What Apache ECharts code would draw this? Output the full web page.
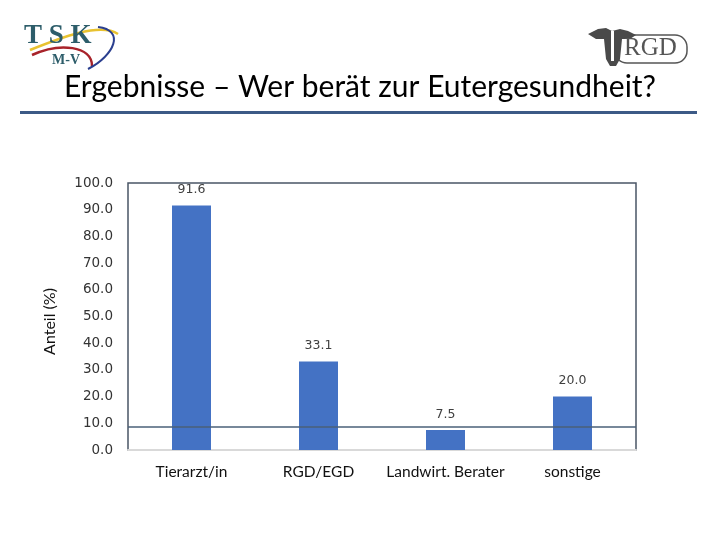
<!DOCTYPE html>
<html>
<head>
<meta charset="utf-8">
<script src="https://cdn.jsdelivr.net/npm/echarts@6/dist/echarts.min.js"></script>
<style>html,body{margin:0;padding:0;background:#fff;}#c{width:720px;height:540px;}</style>
</head>
<body>
<div id="c"></div>
<script>
const categories = ['Tierarzt/in', 'RGD/EGD', 'Landwirt. Berater', 'sonstige'];
const values = [91.6, 33.1, 7.5, 20.0];
const refLineValue = [8.6];
const titleText = 'Ergebnisse – Wer berät zur Eutergesundheit?';
const yAxisName = 'Anteil (%)';

const chart = echarts.init(document.getElementById('c'), null, {renderer: 'canvas'});
chart.setOption({
  backgroundColor: '#ffffff',
  animation: false,
  grid: {left: 128, right: 84, top: 183, bottom: 90, show: true, borderColor: '#4a5666', borderWidth: 1.5, backgroundColor: 'transparent'},
  xAxis: {
    type: 'category', data: categories,
    axisLine: {show: true, lineStyle: {color: '#d9d9d9', width: 2}},
    axisTick: {show: false},
    axisLabel: {interval: 0, color: '#111', fontFamily: 'Lato', fontSize: 15.5, margin: 14}
  },
  yAxis: {
    type: 'value', min: 0, max: 100, interval: 10,
    name: yAxisName, nameLocation: 'middle', nameGap: 70, nameRotate: 90,
    nameTextStyle: {fontFamily: 'Lato', fontSize: 16, color: '#111', padding: [0, 10, 0, 0]},
    axisLine: {show: false}, axisTick: {show: false}, splitLine: {show: false},
    axisLabel: {color: '#333', fontFamily: 'DejaVu Sans', fontSize: 13.5, margin: 15,
      formatter: v => v.toFixed(1)}
  },
  series: [{
    type: 'bar', data: values, barWidth: 39,
    itemStyle: {color: '#4472C4'},
    label: {show: true, position: 'top', distance: 9, color: '#404040', fontFamily: 'DejaVu Sans', fontSize: 12.5,
      formatter: p => p.value.toFixed(1)},
    markLine: {
      silent: true, symbol: ['none', 'none'], label: {show: false},
      lineStyle: {color: '#4a6078', width: 1.5, type: 'solid'},
      data: refLineValue.map(v => ({yAxis: v}))
    }
  }],
  graphic: [
    {type: 'text', left: 'center', top: 72, style: {text: titleText, fontFamily: 'Lato', fontSize: 30, fill: '#000'}},
    {type: 'rect', shape: {x: 20, y: 111, width: 677, height: 3}, style: {fill: '#3c5a86'}},
    // TSK logo
    {type: 'bezierCurve', shape: {x1: 30, y1: 50, x2: 118, y2: 34, cpx1: 60, cpy1: 38, cpx2: 100, cpy2: 22}, style: {stroke: '#e8c230', lineWidth: 2.5, fill: null}},
    {type: 'bezierCurve', shape: {x1: 32, y1: 55, x2: 92, y2: 66, cpx1: 60, cpy1: 42, cpx2: 92, cpy2: 46}, style: {stroke: '#a8232a', lineWidth: 2.5, fill: null}},
    {type: 'bezierCurve', shape: {x1: 88, y1: 69, x2: 98, y2: 27, cpx1: 115, cpy1: 55, cpx2: 125, cpy2: 30}, style: {stroke: '#2b3f8f', lineWidth: 2, fill: null}},
    {type: 'text', x: 24, y: 23, style: {text: 'T S K', fontFamily: 'Liberation Serif', fontWeight: 'bold', fontSize: 27, fill: '#2d5d6a'}},
    {type: 'text', x: 52, y: 53, style: {text: 'M-V', fontFamily: 'Liberation Serif', fontWeight: 'bold', fontSize: 14, fill: '#2d5d6a'}},
    // RGD logo
    {type: 'rect', shape: {x: 615, y: 35, width: 72, height: 28, r: 12}, style: {fill: null, stroke: '#555', lineWidth: 1.5}},
    {type: 'polygon', shape: {points: [[588, 34], [598, 29], [606, 28], [612, 31], [620, 29], [628, 31], [636, 35], [630, 39], [622, 39], [620, 59], [616, 66], [610, 66], [606, 59], [604, 39], [596, 39]]}, style: {fill: '#4a4a4a'}},
    {type: 'rect', shape: {x: 611, y: 31, width: 3, height: 30}, style: {fill: '#ffffff'}},
    {type: 'text', x: 624, y: 36, style: {text: 'RGD', fontFamily: 'Liberation Serif', fontSize: 25, fill: '#555'}}
  ]
});
</script>
</body>
</html>
